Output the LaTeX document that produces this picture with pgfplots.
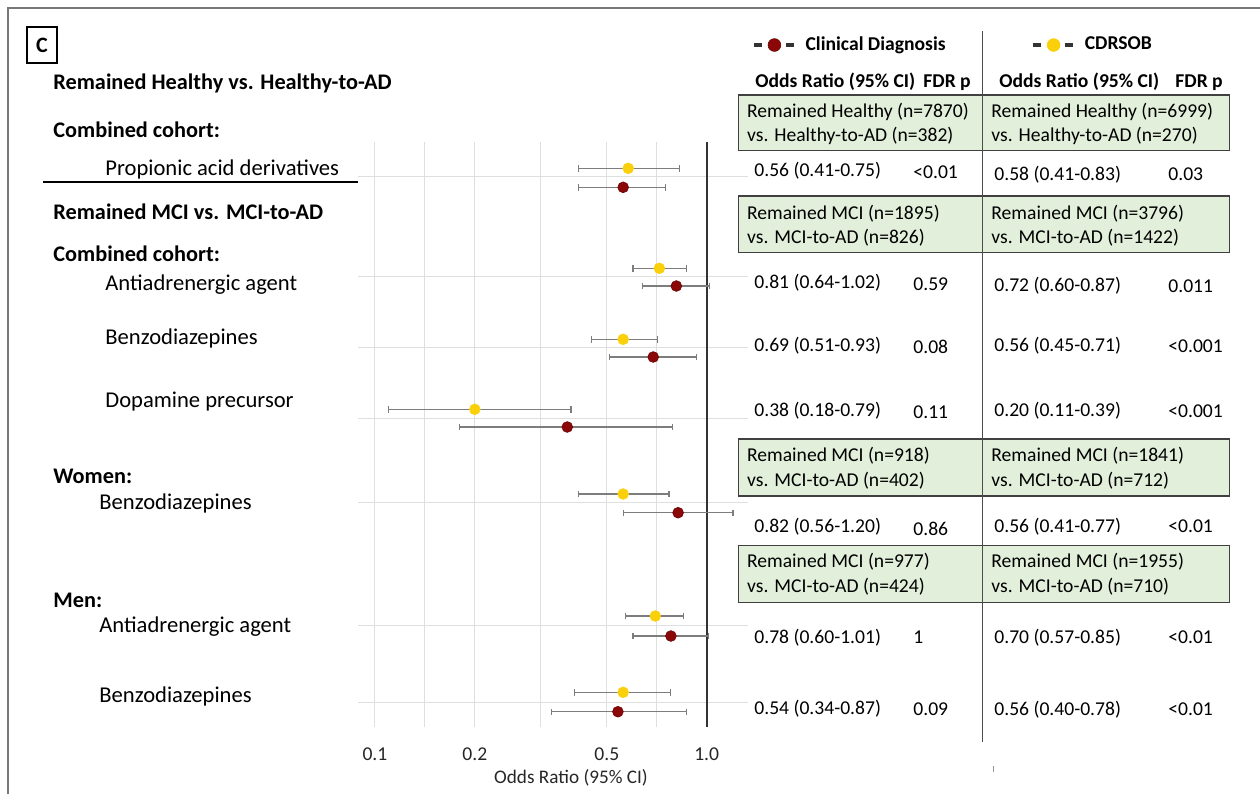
\documentclass[border=0pt]{standalone}
\usepackage{pgfplots}
\usepackage{pgfplotstable}
\pgfplotsset{compat=1.18}
\usepackage{fontspec}
\setmainfont{Carlito}

\definecolor{cdred}{RGB}{140,8,8}
\definecolor{cdyel}{RGB}{250,208,10}
\definecolor{boxgreen}{RGB}{226,239,218}
\definecolor{errgray}{RGB}{125,125,125}
\definecolor{framegray}{RGB}{120,120,120}

% y = vertical row position (pixels from top), val = odds ratio, lo/hi = 95% CI
\pgfplotstableread{
y val lo hi
187.3 0.56 0.41 0.75
286.0 0.81 0.64 1.02
357.0 0.69 0.51 0.93
427.0 0.38 0.18 0.79
512.7 0.82 0.56 1.20
636.0 0.78 0.60 1.01
711.7 0.54 0.34 0.87
}\clinical

\pgfplotstableread{
y val lo hi
168.3 0.58 0.41 0.83
268.3 0.72 0.60 0.87
339.3 0.56 0.45 0.71
409.3 0.20 0.11 0.39
494.0 0.56 0.41 0.77
616.0 0.70 0.57 0.85
692.3 0.56 0.40 0.78
}\cdrsob

\begin{document}
\begin{tikzpicture}
\path[use as bounding box] (0,0) rectangle (630pt,-397pt);

\begin{axis}[
    at={(179pt,-363.5pt)}, anchor=south west,
    width=195pt, height=292.5pt, scale only axis,
    xmode=log, xmin=0.0889, xmax=1.332,
    ymin=142, ymax=727, y dir=reverse,
    axis line style={draw=none},
    major tick length=0pt, minor tick length=0pt,
    xtick={0.1,0.2,0.5,1}, xticklabels={0.1,0.2,0.5,1.0},
    minor xtick={0.1414,0.3162,0.7071},
    ytick={176.7,276.7,347.3,418.3,502.3,625.7,702.3}, yticklabels={},
    xmajorgrids, xminorgrids, ymajorgrids,
    grid style={gray!25, line width=0.5pt},
    minor grid style={gray!25, line width=0.5pt},
    xticklabel style={font=\fontsize{9.8}{11}\selectfont, text=black!85},
    xticklabel shift=6.6pt,
    /pgf/number format/assume math mode=true,
    legend columns=2,
    legend cell align=left,
    legend style={at={(1.0103,1.1658)}, anchor=west, draw=none, fill=none,
        inner sep=0pt, font=\bfseries\fontsize{9.8}{11.8}\selectfont,
        /tikz/every odd column/.append style={column sep=3pt},
        /tikz/every even column/.append style={column sep=41pt}},
    legend image code/.code={
        \draw[black!80, line width=1.6pt] (0pt,0pt) -- (4pt,0pt);
        \draw[black!80, line width=1.6pt] (16pt,0pt) -- (20pt,0pt);
        \draw[#1, mark size=3.2pt] plot coordinates {(10.2pt,0pt)};
    },
]

\addplot[draw=black!80, line width=1pt, forget plot] coordinates {(1,142) (1,727)};

\addplot[only marks, mark=*, mark size=2.7pt,
    mark options={fill=cdred, draw=cdred!75!black, line width=0.3pt},
    error bars/.cd, x dir=both, x explicit,
    error bar style={errgray, line width=0.6pt},
    error mark options={errgray, line width=0.6pt, mark size=1.6pt, rotate=90}]
    table[x=val, y=y,
        x error plus expr=\thisrow{hi}-\thisrow{val},
        x error minus expr=\thisrow{val}-\thisrow{lo}] {\clinical};
\addlegendentry{Clinical Diagnosis}

\addplot[only marks, mark=*, mark size=2.7pt,
    mark options={fill=cdyel, draw=cdyel, line width=0.3pt},
    error bars/.cd, x dir=both, x explicit,
    error bar style={errgray, line width=0.6pt},
    error mark options={errgray, line width=0.6pt, mark size=1.6pt, rotate=90}]
    table[x=val, y=y,
        x error plus expr=\thisrow{hi}-\thisrow{val},
        x error minus expr=\thisrow{val}-\thisrow{lo}] {\cdrsob};
\addlegendentry{CDRSOB}
\end{axis}

\begin{scope}[x=0.5pt, y=-0.5pt,
    lab/.style={anchor=base west, inner sep=0pt, font=\fontsize{11.3}{13}\selectfont},
    hd/.style={anchor=base west, inner sep=0pt, font=\bfseries\fontsize{11.15}{13}\selectfont},
    tb/.style={anchor=base west, inner sep=0pt, font=\fontsize{9.8}{11.8}\selectfont},
    th/.style={anchor=base west, inner sep=0pt, font=\bfseries\fontsize{9.8}{11.8}\selectfont},
    gbox/.style={fill=boxgreen, draw=black!75, line width=0.7pt}]

% frame
\draw[framegray, line width=0.8pt] (8,794) -- (8,8) -- (1260,8);

% panel letter
\draw[black, line width=0.7pt] (27,27) rectangle (57,63);
\node[font=\bfseries\fontsize{11}{13}\selectfont, inner sep=0pt] at (42,45) {C};

% left labels
\node[hd] at (53,89) {Remained Healthy vs. Healthy-to-AD};
\node[hd] at (53,137) {Combined cohort:};
\node[lab] at (105,175) {Propionic acid derivatives};
\draw[black, line width=0.6pt] (43,182) -- (358,182);
\node[hd] at (53,219) {Remained MCI vs. MCI-to-AD};
\node[hd] at (53,261) {Combined cohort:};
\node[lab] at (105,290) {Antiadrenergic agent};
\node[lab] at (105,344) {Benzodiazepines};
\node[lab] at (105,407) {Dopamine precursor};
\node[hd] at (53,483) {Women:};
\node[lab] at (99,509) {Benzodiazepines};
\node[hd] at (53,607) {Men:};
\node[lab] at (99,632.7) {Antiadrenergic agent};
\node[lab] at (99,702) {Benzodiazepines};

% x label
\node[font=\fontsize{9.6}{11}\selectfont, text=black!85, inner sep=0pt] at (571,778) {Odds Ratio (95\% CI)};

% table boxes
\draw[gbox] (738.3,95) rectangle (1229.3,150.7);
\draw[gbox] (738.3,196) rectangle (1229.3,252.3);
\draw[gbox] (738.3,439) rectangle (1229.3,496);
\draw[gbox] (738.3,545.7) rectangle (1229.3,602.3);
\draw[black!70, line width=0.6pt] (982.3,31) -- (982.3,742);
\draw[black!40, line width=0.5pt] (993,766) -- (993,772);

% table header
\node[th] at (755,87.5) {Odds Ratio (95\% CI)};
\node[th] at (923,87.5) {FDR p};
\node[th] at (999,87.5) {Odds Ratio (95\% CI)};
\node[th] at (1175,87.5) {FDR p};

% box texts
\node[tb] at (746.7,117) {Remained Healthy (n=7870)};
\node[tb] at (746.7,141.5) {vs. Healthy-to-AD (n=382)};
\node[tb] at (991,117) {Remained Healthy (n=6999)};
\node[tb] at (991,141.5) {vs. Healthy-to-AD (n=270)};

\node[tb] at (746.7,219) {Remained MCI (n=1895)};
\node[tb] at (746.7,243) {vs. MCI-to-AD (n=826)};
\node[tb] at (991,219) {Remained MCI (n=3796)};
\node[tb] at (991,243) {vs. MCI-to-AD (n=1422)};

\node[tb] at (746.7,461) {Remained MCI (n=918)};
\node[tb] at (746.7,486) {vs. MCI-to-AD (n=402)};
\node[tb] at (991,461) {Remained MCI (n=1841)};
\node[tb] at (991,486) {vs. MCI-to-AD (n=712)};

\node[tb] at (746.7,567.5) {Remained MCI (n=977)};
\node[tb] at (746.7,592) {vs. MCI-to-AD (n=424)};
\node[tb] at (991,567.5) {Remained MCI (n=1955)};
\node[tb] at (991,592) {vs. MCI-to-AD (n=710)};

% table rows
\node[tb] at (754,176.5) {0.56 (0.41-0.75)};
\node[tb] at (913,178) {<0.01};
\node[tb] at (994,180.5) {0.58 (0.41-0.83)};
\node[tb] at (1168,180.5) {0.03};

\node[tb] at (754,288) {0.81 (0.64-1.02)};
\node[tb] at (913,290.5) {0.59};
\node[tb] at (994,291.5) {0.72 (0.60-0.87)};
\node[tb] at (1168,292.5) {0.011};

\node[tb] at (754,351.5) {0.69 (0.51-0.93)};
\node[tb] at (913,353.5) {0.08};
\node[tb] at (994,351.5) {0.56 (0.45-0.71)};
\node[tb] at (1168,352) {<0.001};

\node[tb] at (754,416.5) {0.38 (0.18-0.79)};
\node[tb] at (913,418.5) {0.11};
\node[tb] at (994,416.5) {0.20 (0.11-0.39)};
\node[tb] at (1168,417) {<0.001};

\node[tb] at (754,532.5) {0.82 (0.56-1.20)};
\node[tb] at (913,535) {0.86};
\node[tb] at (994,532.5) {0.56 (0.41-0.77)};
\node[tb] at (1168,532.5) {<0.01};

\node[tb] at (754,643) {0.78 (0.60-1.01)};
\node[tb] at (913,643) {1};
\node[tb] at (994,643) {0.70 (0.57-0.85)};
\node[tb] at (1168,643) {<0.01};

\node[tb] at (754,714) {0.54 (0.34-0.87)};
\node[tb] at (913,715.5) {0.09};
\node[tb] at (994,715) {0.56 (0.40-0.78)};
\node[tb] at (1168,715) {<0.01};
\end{scope}
\end{tikzpicture}
\end{document}
